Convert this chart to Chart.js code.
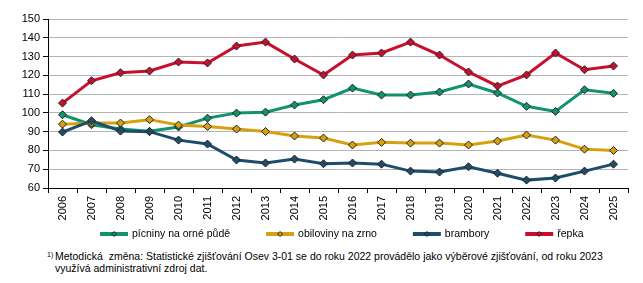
<!DOCTYPE html>
<html>
<head>
<meta charset="utf-8">
<script src="https://cdn.jsdelivr.net/npm/chart.js@4/dist/chart.umd.min.js"></script>
<style>
  body { margin: 0; background: #fff; font-family: "Liberation Sans", Arial, sans-serif; }
  #wrap { position: relative; width: 643px; height: 283px; }
  #note { position: absolute; left: 55px; top: 250px; font-size: 10.5px; line-height: 12px; color: #000; white-space: nowrap; }
  #note sup { position: absolute; left: -8px; top: 1px; font-size: 7px; line-height: 8px; }
</style>
</head>
<body>
<div id="wrap">
  <canvas id="c" width="643" height="245"></canvas>
  <div id="note"><sup>1)</sup>Metodická&nbsp; změna: Statistické zjišťování Osev 3-01 se do roku 2022 provádělo jako výběrové zjišťování, od roku 2023<br>využívá administrativní zdroj dat.</div>
</div>
<script>
// years on the x axis
const years = ["2006", "2007", "2008", "2009", "2010", "2011", "2012", "2013", "2014", "2015",
  "2016", "2017", "2018", "2019", "2020", "2021", "2022", "2023", "2024", "2025"];

// series
const picniny = [99.0, 93.7, 91.4, 90.2, 92.5, 97.2, 99.9, 100.4, 104.2, 107.0,
  113.2, 109.5, 109.5, 111.1, 115.4, 110.6, 103.5, 100.8, 112.3, 110.4];
const obiloviny = [94.0, 94.6, 94.6, 96.4, 93.5, 92.8, 91.4, 90.1, 87.7, 86.6,
  82.9, 84.3, 83.9, 83.9, 82.9, 85.0, 88.2, 85.5, 80.7, 80.0];
const brambory = [89.8, 95.8, 90.3, 90.0, 85.5, 83.4, 74.9, 73.3, 75.4, 72.9,
  73.3, 72.7, 69.0, 68.5, 71.3, 67.9, 64.2, 65.3, 69.0, 72.7];
const repka = [105.2, 117.1, 121.4, 122.3, 127.1, 126.6, 135.6, 137.7, 128.7, 120.2,
  130.8, 131.9, 137.7, 130.8, 121.8, 114.3, 120.2, 131.9, 123.0, 125.0];

const seriesNames = ["pícniny na orné půdě", "obiloviny na zrno", "brambory", "řepka"];
const seriesColors = ["#11936f", "#d7a00e", "#1e4d6b", "#c8102e"];

const yMin = 60, yMax = 150, yStep = 10;

Chart.defaults.font.family = '"Liberation Sans", Arial, sans-serif';
Chart.defaults.font.size = 11;
Chart.defaults.color = "#000";

function makeDataset(i, data) {
  return {
    label: seriesNames[i],
    data: data,
    borderColor: seriesColors[i],
    backgroundColor: seriesColors[i],
    borderWidth: 3,
    tension: 0,
    pointStyle: "rectRot",
    pointRadius: 4,
    pointBorderWidth: 1,
    pointBorderColor: "#222",
    pointBackgroundColor: seriesColors[i],
    order: 4 - i,
  };
}

// legend drawn under the axis, line + small diamond + text
const bottomLegend = {
  id: "bottomLegend",
  afterDraw(chart) {
    const ctx = chart.ctx;
    const y = 234;
    let x = 100;
    ctx.save();
    ctx.font = '10.5px "Liberation Sans", Arial, sans-serif';
    ctx.textBaseline = "middle";
    chart.data.datasets.forEach((ds) => {
      ctx.strokeStyle = ds.borderColor;
      ctx.lineWidth = 4;
      ctx.beginPath();
      ctx.moveTo(x, y);
      ctx.lineTo(x + 28, y);
      ctx.stroke();
      const cx = x + 14;
      ctx.beginPath();
      ctx.moveTo(cx, y - 2.5);
      ctx.lineTo(cx + 2.5, y);
      ctx.lineTo(cx, y + 2.5);
      ctx.lineTo(cx - 2.5, y);
      ctx.closePath();
      ctx.fillStyle = ds.borderColor;
      ctx.fill();
      ctx.lineWidth = 1;
      ctx.strokeStyle = "#222";
      ctx.stroke();
      ctx.fillStyle = "#000";
      ctx.fillText(ds.label, x + 32, y);
      x += 32 + ctx.measureText(ds.label).width + 36;
    });
    ctx.restore();
  },
};

new Chart(document.getElementById("c"), {
  type: "line",
  data: {
    labels: years,
    datasets: [
      makeDataset(0, picniny),
      makeDataset(1, obiloviny),
      makeDataset(2, brambory),
      makeDataset(3, repka),
    ],
  },
  options: {
    responsive: false,
    animation: false,
    layout: { padding: { left: 0, right: 15, top: 19, bottom: 0 } },
    plugins: {
      legend: { display: false },
      tooltip: { enabled: false },
    },
    scales: {
      x: {
        offset: true,
        grid: {
          offset: true,
          drawOnChartArea: false,
          drawTicks: true,
          tickLength: 5,
          tickColor: "#000",
        },
        border: { color: "#000", width: 1 },
        ticks: { autoSkip: false, minRotation: 90, maxRotation: 90, padding: 3 },
        afterFit(scale) { scale.height = 57; },
      },
      y: {
        min: yMin,
        max: yMax,
        ticks: { stepSize: yStep, padding: 3 },
        grid: { color: "#b4b4b4", tickLength: 5, tickColor: "#000" },
        border: { color: "#000", width: 1 },
        afterFit(scale) { scale.width = 48; },
      },
    },
  },
  plugins: [bottomLegend],
});
</script>
</body>
</html>
